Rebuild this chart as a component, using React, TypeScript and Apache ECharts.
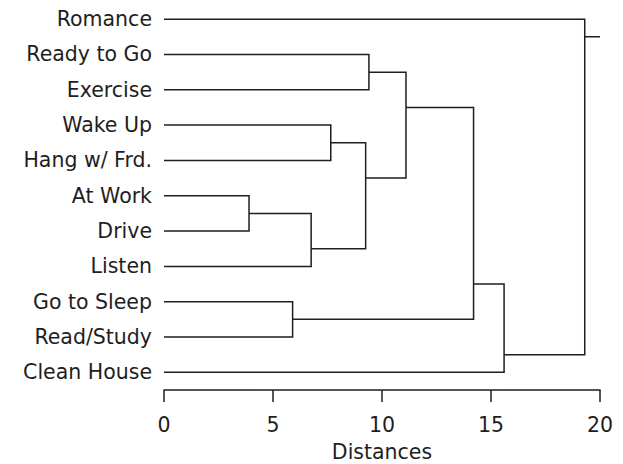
import React, { useEffect, useRef } from "react";
import * as echarts from "echarts";

// Leaves, top to bottom
const leaves = [
  "Romance",
  "Ready to Go",
  "Exercise",
  "Wake Up",
  "Hang w/ Frd.",
  "At Work",
  "Drive",
  "Listen",
  "Go to Sleep",
  "Read/Study",
  "Clean House",
];

// Linkage: [left node, right node] (0..10 leaves, 11+ clusters in merge order)
const mergePairs: [number, number][] = [
  [5, 6],
  [8, 9],
  [11, 7],
  [3, 4],
  [14, 13],
  [1, 2],
  [16, 15],
  [17, 12],
  [18, 10],
  [0, 19],
];
// Merge distances
const mergeDistances = [3.9, 5.9, 6.75, 7.65, 9.25, 9.4, 11.1, 14.2, 15.6, 19.3];

const xTicks = [0, 5, 10, 15, 20];
const xMin = 0;
const xMax = 20;
const xInterval = 5;

export default function App() {
  const ref = useRef<HTMLDivElement>(null);

  useEffect(() => {
    if (!ref.current) return;
    const chart = echarts.init(ref.current, null, { renderer: "svg" });

    const n = leaves.length;
    const nodeY: number[] = [];
    const nodeH: number[] = [];
    const nodeFirst: number[] = [];
    for (let i = 0; i < n; i++) {
      nodeY[i] = i;
      nodeH[i] = 0;
      nodeFirst[i] = i;
    }
    const segs: number[][] = [];
    mergePairs.forEach(([a, b], k) => {
      const id = n + k;
      const h = mergeDistances[k];
      segs.push([h, nodeY[a], nodeY[b], nodeH[a], nodeH[b]]);
      nodeFirst[id] = Math.min(nodeFirst[a], nodeFirst[b]);
      const second = nodeFirst[a] < nodeFirst[b] ? b : a;
      nodeY[id] = nodeFirst[second] - 0.5;
      nodeH[id] = h;
    });
    const rootId = n + mergePairs.length - 1;

    const stroke = "#1e1e1e";
    const font = "DejaVu Sans";

    chart.setOption({
      animation: false,
      backgroundColor: "#ffffff",
      grid: {
        left: 164,
        right: 23,
        top: 1.5,
        bottom: 74,
        containLabel: false,
        outerBoundsMode: "none",
      },
      xAxis: {
        type: "value",
        position: "bottom",
        min: xMin,
        max: xMax,
        interval: xInterval,
        axisLine: { show: true, onZero: false, lineStyle: { color: stroke, width: 1.5 } },
        axisTick: { show: true, length: 12, lineStyle: { color: stroke, width: 1.5 } },
        splitLine: { show: false },
        axisLabel: {
          fontSize: 20.5,
          color: stroke,
          fontFamily: font,
          margin: 24,
          formatter: (v: number) => (xTicks.includes(v) ? String(v) : ""),
        },
        name: "Distances",
        nameLocation: "middle",
        nameGap: 51,
        nameTextStyle: { fontSize: 20.5, color: stroke, fontFamily: font },
      },
      yAxis: [
        {
          type: "category",
          data: leaves,
          inverse: true,
          axisLine: { show: false },
          axisTick: { show: false },
          splitLine: { show: false },
          axisLabel: { fontSize: 20.5, color: stroke, fontFamily: font, margin: 12 },
        },
        {
          type: "value",
          min: -0.5,
          max: n - 0.5,
          inverse: true,
          show: false,
          splitLine: { show: false },
        },
      ],
      series: [
        {
          type: "custom",
          yAxisIndex: 1,
          data: segs,
          encode: { x: [0, 3, 4], y: [1, 2] },
          renderItem: (params: any, api: any) => {
            const h = api.value(0);
            const yl = api.value(1);
            const yr = api.value(2);
            const hl = api.value(3);
            const hr = api.value(4);
            const pts = [
              api.coord([hl, yl]),
              api.coord([h, yl]),
              api.coord([h, yr]),
              api.coord([hr, yr]),
            ];
            return {
              type: "polyline",
              shape: { points: pts },
              style: { stroke, lineWidth: 1.5, fill: "none" },
            };
          },
        },
        {
          type: "line",
          yAxisIndex: 1,
          data: [
            [nodeH[rootId], nodeY[rootId]],
            [xMax, nodeY[rootId]],
          ],
          symbol: "none",
          lineStyle: { color: stroke, width: 1.5 },
        },
      ],
    });

    return () => chart.dispose();
  }, []);

  return (
    <div
      ref={ref}
      style={{ position: "absolute", left: 0, top: 0, width: 623, height: 464 }}
    />
  );
}
